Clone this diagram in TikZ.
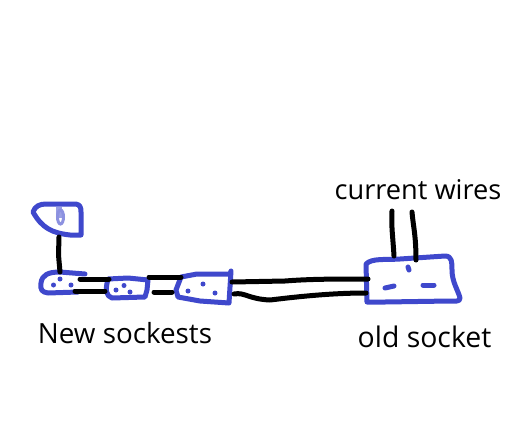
\documentclass[tikz,border=0pt]{standalone}
\usepackage{fontspec}
\setmainfont{Open Sans}
\tikzset{
  blue line/.style={draw=sockblue,line width=5pt,line cap=round,line join=round},
  wire/.style={draw=black,line width=5pt,line cap=round,line join=round},
  dot/.style={circle,fill=sockblue,inner sep=0pt,minimum size=5pt},
  lab/.style={text=black,inner sep=0pt,anchor=base}
}
\definecolor{sockblue}{HTML}{3F48CC}
\begin{document}
\begin{tikzpicture}[x=1pt,y=-1pt]
\useasboundingbox (0,0) rectangle (520,432);
\fill[white] (0,0) rectangle (520,432);
% plug
\draw[blue line] (33,212) .. controls (35,206) and (40,204) .. (46,204) -- (76,204) .. controls (80,205) and (81,207) .. (81,212) -- (81,235) -- (70,235) .. controls (52,233) and (42,228) .. (33,212) -- cycle;
\fill[sockblue!70,opacity=.75] (56,207) rectangle (62,218);
\draw[sockblue!60,line width=3pt] (60.5,217) ellipse (3 and 7);
% socket 1
\draw[blue line] (85,274) -- (60,272) .. controls (48,272) and (42,275) .. (41,283) .. controls (40,290) and (42,292) .. (48,293) -- (78,292);
\node[dot] (d1) at (60,279) {};
\node[dot] (d2) at (53.5,285) {};
\node[dot] (d3) at (71,285) {};
% socket 2
\draw[blue line] (108,279) -- (128,278) -- (148,280) -- (147,290) -- (145,297) -- (112,298) .. controls (106,296) and (105,290) .. (108,279) -- cycle;
\node[dot] (d4) at (124,285.5) {};
\node[dot] (d5) at (116,290) {};
\node[dot] (d6) at (130,292) {};
% socket 3
\draw[blue line] (181,277) -- (197,274) -- (230,274) -- (231,271) -- (229,303) -- (200,301) -- (178,297) -- (176,290) -- cycle;
\node[dot] (d7) at (203,284) {};
\node[dot] (d8) at (188,291) {};
\node[dot] (d9) at (215,293) {};
% old socket
\draw[blue line] (366,264) .. controls (372,258) and (385,260) .. (400,259) -- (445,256) .. controls (452,256) and (452,262) .. (452,270) .. controls (452,282) and (458,290) .. (460,298) .. controls (460,302) and (455,301) .. (450,301) -- (385,302) -- (367,302) -- cycle;
\draw[blue line] (408,267) -- (409,270);
\draw[blue line] (385,288) -- (394,286);
\draw[blue line] (423,285) -- (434,285);
% wires
\coordinate (plugB) at (59,237);
\coordinate (s1T) at (60,272);
\draw[wire] (plugB) -- (58.5,255) -- (s1T);
\draw[wire] (80,279) -- (109,279);
\draw[wire] (75,291) -- (105,291);
\draw[wire] (149,277) -- (181,277);
\draw[wire] (154,292) -- (172,292);
\coordinate (oldA) at (368,279);
\coordinate (oldB) at (366,293);
\draw[wire] (232,282) -- (285,281) .. controls (310,279) and (335,279) .. (oldA);
\draw[wire] (234,294) .. controls (245,292) and (248,299) .. (270,300) .. controls (295,297) and (330,293) .. (oldB);
\draw[wire] (392,211) .. controls (391,225) and (393,238) .. (394,256);
\draw[wire] (412,212) .. controls (413,225) and (416,235) .. (416,260);
% labels
\node[lab,font=\fontsize{27.2}{30}\selectfont] (cw) at (418,199) {current wires};
\node[lab,font=\fontsize{27.8}{30}\selectfont] (ns) at (125,343) {New sockests};
\node[lab,font=\fontsize{28.4}{30}\selectfont] (os) at (424.5,347) {old socket};
\end{tikzpicture}
\end{document}
